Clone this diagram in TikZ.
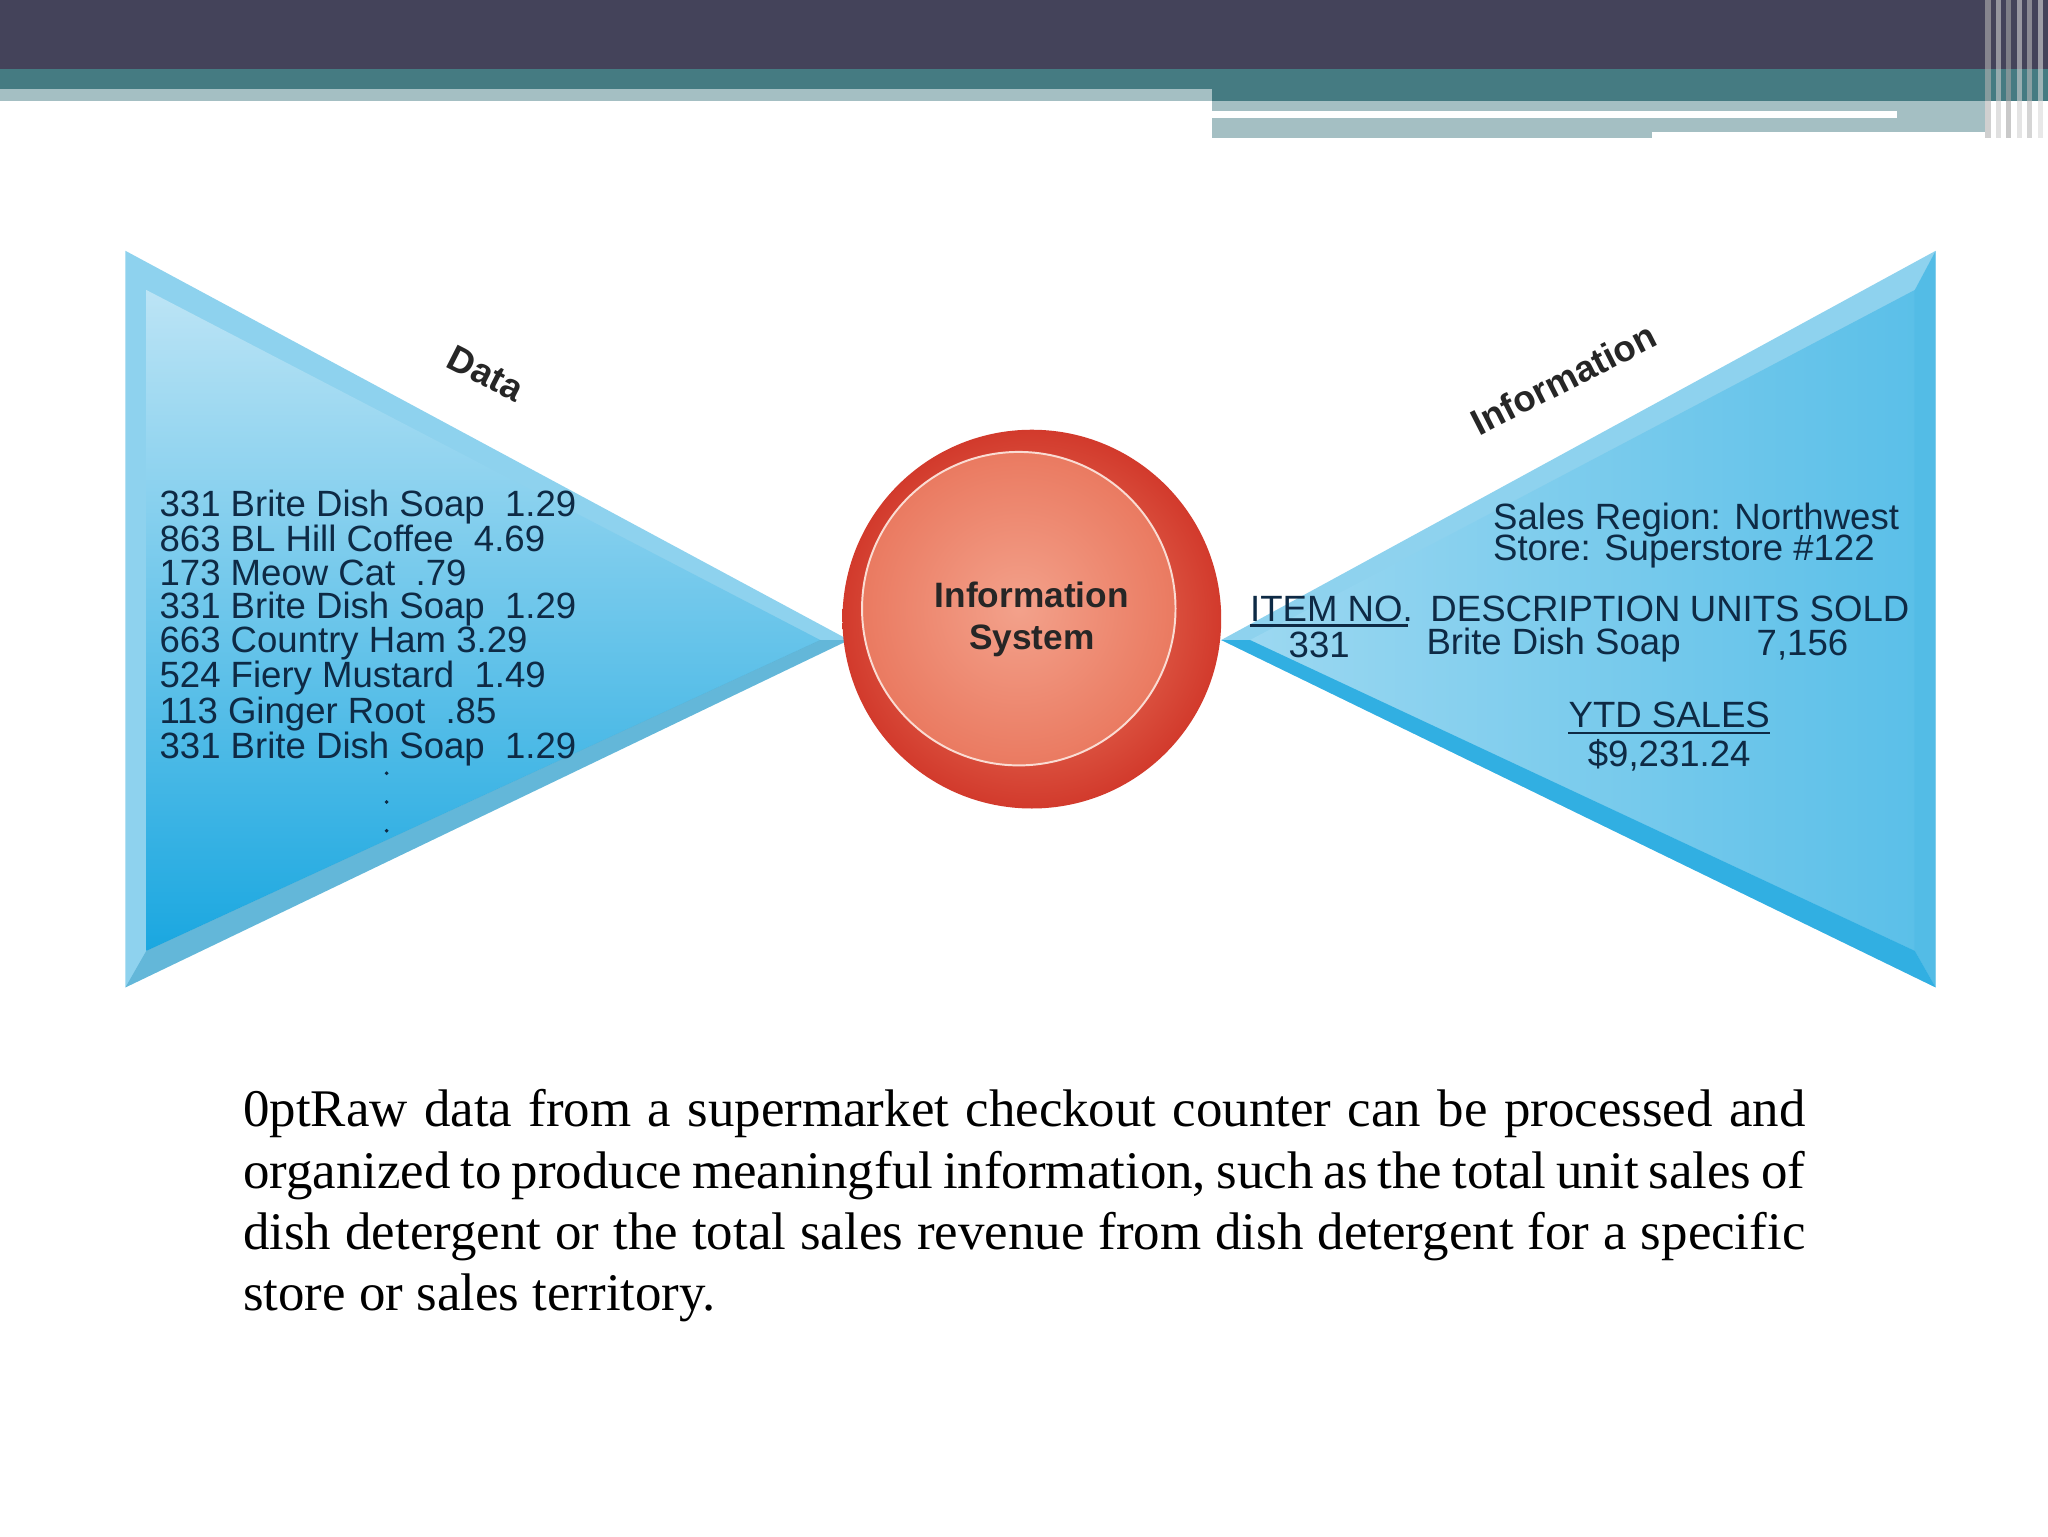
\documentclass[tikz,border=0pt]{standalone}
\usepackage{fontspec}
\setmainfont{Liberation Serif}
\setsansfont{Liberation Sans}
\definecolor{dark}{HTML}{44435A}
\definecolor{teal}{HTML}{457B82}
\definecolor{lteal}{HTML}{A4BFC3}
\definecolor{bevel}{HTML}{8ED2EE}
\definecolor{blueA}{HTML}{BCE4F5}
\definecolor{blueB}{HTML}{1AA7E0}
\definecolor{redA}{HTML}{F08A6E}
\definecolor{redB}{HTML}{D23A2C}
\definecolor{txt}{HTML}{0E2A45}
\begin{document}
\begin{tikzpicture}[x=1pt,y=-1pt,
  lbl/.style={font=\sffamily\fontsize{28}{25.3}\selectfont,text=txt,inner sep=0pt},
  captext/.style={font=\fontsize{40.5}{47}\selectfont\hyphenpenalty=10000\exhyphenpenalty=10000,inner sep=0pt,text width=1196pt,align=justify,anchor=north west}]
\useasboundingbox (0,0) rectangle (1568,1176);
\fill[white] (0,0) rectangle (1568,1176);
% banner
\fill[dark] (0,0) rectangle (1568,53);
\fill[teal] (0,53) rectangle (1568,77);
\fill[lteal] (0,68) rectangle (928,77);
\fill[lteal] (928,77) rectangle (1265,106);
\fill[lteal] (1265,77) rectangle (1520,101);
\fill[white] (928,85) rectangle (1452,90);
\foreach \xx/\cc in {1520/gray!60,1528/gray!40,1536/gray!70,1544/gray!35,1552/gray!55,1560/gray!30}
  \fill[\cc,opacity=.6] (\xx,0) rectangle ++(4,106);
% left triangle
\coordinate (l1) at (96,192); \coordinate (l2) at (96,756); \coordinate (la) at (650,490);
\fill[bevel] (l1) -- (la) -- (l2) -- cycle;
\shade[left color=blueA,right color=blueB,shading angle=0] (112,222) -- (628,490) -- (112,728) -- cycle;
\fill[blueB!80!black,opacity=.35] (l2) -- (112,728) -- (628,490) -- (la) -- cycle;
% right triangle
\coordinate (r1) at (1482,192); \coordinate (r2) at (1482,756); \coordinate (ra) at (935,490);
\fill[bevel] (r1) -- (ra) -- (r2) -- cycle;
\shade[left color=blueA!80!blueB,right color=blueA!40!blueB] (1466,222) -- (957,490) -- (1466,728) -- cycle;
\fill[blueB,opacity=.8] (r2) -- (1466,728) -- (957,490) -- (ra) -- cycle;
\fill[blueB,opacity=.5] (r1) -- (r2) -- (1466,728) -- (1466,222) -- cycle;
% circle
\shade[inner color=redA,outer color=redB] (790,474) circle (145);
\shade[inner color=redA!80!white,outer color=redA!80!redB] (780,466) circle (120);
\draw[white!70!redA,line width=1.5pt] (780,466) circle (120);
\node[font=\sffamily\bfseries\fontsize{27}{32}\selectfont,align=center,text=black!85] (is) at (790,474) {Information\\System};
% labels
\node[lbl,font=\sffamily\bfseries\fontsize{28}{26}\selectfont,text=black!85,rotate=-27] (data) at (372,286) {Data};
\node[lbl,font=\sffamily\bfseries\fontsize{28}{26}\selectfont,text=black!85,rotate=27] (info) at (1197,290) {Information};
\node[lbl,anchor=north west,align=left] (list) at (122,375) {331 Brite Dish Soap\ \ 1.29\\863 BL Hill Coffee\ \ 4.69\\173 Meow Cat\ \ .79\\331 Brite Dish Soap\ \ 1.29\\663 Country Ham 3.29\\524 Fiery Mustard\ \ 1.49\\113 Ginger Root\ \ .85\\331 Brite Dish Soap\ \ 1.29};
\foreach \yy in {592,614,636} \fill[txt] (296,\yy) circle (1.5);
\node[lbl,anchor=west] (sr) at (1143,398) {Sales Region: Northwest};
\node[lbl,anchor=west] (st) at (1143,422) {Store: Superstore \#122};
\node[lbl,anchor=west] (itemno) at (957,466) {ITEM NO.};
\draw[txt,line width=2pt] ([yshift=-3pt]itemno.south west) -- ++(121,0);
\node[lbl,anchor=west] (desc) at (1095,466) {DESCRIPTION};
\node[lbl,anchor=east] (units) at (1462,466) {UNITS SOLD};
\node[lbl] (n331) at (1010,494) {331};
\node[lbl,anchor=west] (bds) at (1092,494) {Brite Dish Soap};
\node[lbl] (n7156) at (1380,494) {7,156};
\node[lbl] (ytd) at (1278,547) {YTD SALES};
\draw[txt,line width=2pt] ([yshift=-4pt]ytd.south west) -- ([yshift=-4pt]ytd.south east);
\node[lbl] (amt) at (1278,578) {\$9,231.24};
% caption
\node[captext] (caption) at (186,834) {Raw data from a supermarket checkout counter can be processed and organized to produce meaningful information, such as the total unit sales of dish detergent or the total sales revenue from dish detergent for a specific store or sales territory.};
\end{tikzpicture}
\end{document}
